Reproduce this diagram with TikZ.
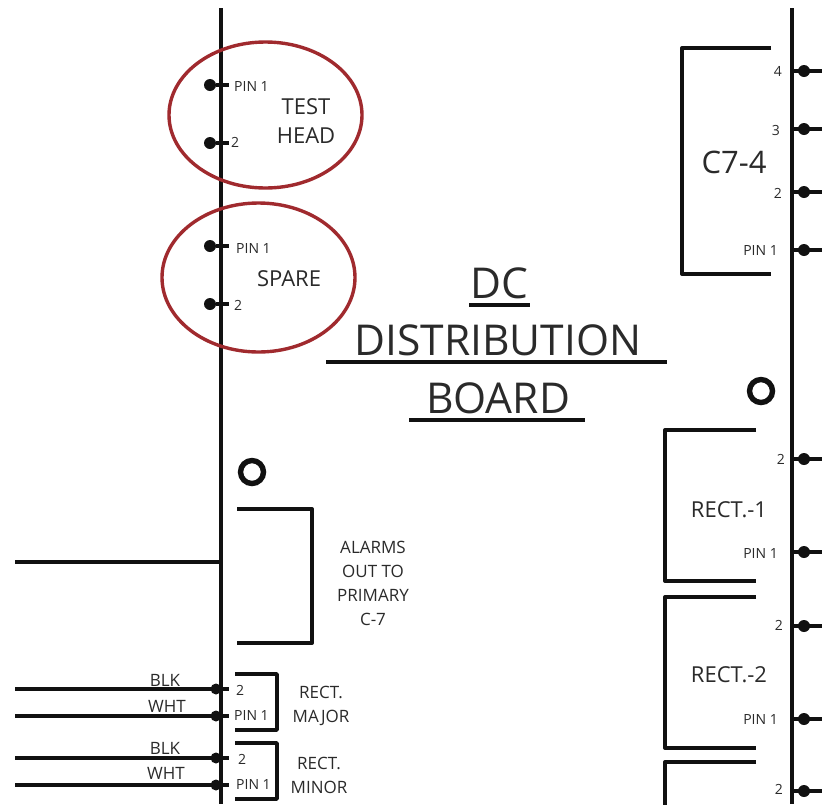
\documentclass[tikz,border=0pt]{standalone}
\usepackage{fontspec}
\usetikzlibrary{shapes.geometric}
\setmainfont{Open Sans}
\definecolor{ink}{HTML}{111111}
\definecolor{txt}{HTML}{2A2A2A}
\definecolor{ringred}{HTML}{A02A2E}
\tikzset{
  wire/.style={draw=ink,line width=3.4pt},
  thick wire/.style={draw=ink,line width=4pt},
  bracket/.style={draw=ink,line width=4pt,line join=round},
  small bracket/.style={draw=ink,line width=3.6pt,line join=round},
  dotpin/.style={circle,fill=ink,inner sep=0pt,minimum size=12pt},
  ring/.style={draw=ringred,line width=3.4pt,ellipse},
  ring2/.style={draw=ink,line width=5.4pt,circle,inner sep=0pt},
  pinlabel/.style={text=txt,font=\fontsize{14}{15}\selectfont,inner sep=0pt},
  midlabel/.style={text=txt,font=\fontsize{22}{29}\selectfont,inner sep=0pt,align=center},
  smalllabel/.style={text=txt,font=\fontsize{17}{24}\selectfont,inner sep=0pt,align=center},
  biglabel/.style={text=txt,font=\fontsize{42.5}{46}\selectfont,inner sep=0pt},
  ul/.style={draw=ink,line width=3.8pt}
}
\begin{document}
\begin{tikzpicture}[x=1pt,y=-1pt]
\useasboundingbox (0,0) rectangle (822,804);
\clip (0,0) rectangle (822,804);
% buses
\coordinate (lt) at (221,8); \coordinate (lb) at (221,804);
\coordinate (rt) at (792,8); \coordinate (rb) at (792,804);
\draw[thick wire] (lt) -- (lb);
\draw[thick wire] (rt) -- (rb);
% left pins
\foreach \n/\y in {a/85,b/143,c/246,d/304}{
  \node[dotpin] (\n) at (210,\y) {};
  \coordinate (\n b) at (229,\y);
  \draw[wire] (\n) -- (\n b);
}
\node[pinlabel,anchor=west] at (234,86) {PIN 1};
\node[pinlabel,anchor=west] at (231,142) {2};
\node[pinlabel,anchor=west] at (236,248) {PIN 1};
\node[pinlabel,anchor=west] at (234,305) {2};
\node[midlabel] at (306,121) {TEST\\HEAD};
\node[midlabel] at (289,279) {SPARE};
\node[ring,minimum width=193pt,minimum height=146pt] (r1) at (265.5,115) {};
\node[ring,minimum width=193pt,minimum height=149pt] (r2) at (258.5,277.5) {};
% title
\node[biglabel] (t1) at (499,283) {DC};
\node[biglabel] (t2) at (498,340) {DISTRIBUTION};
\node[biglabel] (t3) at (498,398) {BOARD};
\coordinate (u1a) at (469,305); \coordinate (u1b) at (530,305);
\coordinate (u2a) at (326,362); \coordinate (u2b) at (667,362);
\coordinate (u3a) at (409,420); \coordinate (u3b) at (585,420);
\draw[ul] (u1a) -- (u1b);
\draw[ul] (u2a) -- (u2b);
\draw[ul] (u3a) -- (u3b);
% rings
\node[ring2,minimum size=23pt] (o1) at (252,472) {};
\node[ring2,minimum size=23pt] (o2) at (761,391) {};
% alarms
\coordinate (aw) at (15,562); \coordinate (ae) at (221,562);
\draw[wire] (aw) -- (ae);
\draw[bracket] (237,509) -- (312,509) -- (312,643) -- (237,643);
\node[smalllabel] at (373,583) {ALARMS\\OUT TO\\PRIMARY\\C-7};
% rect major/minor
\foreach \n/\y/\tl/\tx/\ty in {e/689/BLK/165/680,f/716/WHT/167/706,g/758/BLK/165/748,h/785/WHT/166/773}{
  \coordinate (\n w) at (15,\y);
  \node[dotpin,minimum size=11pt] (\n) at (216,\y) {};
  \coordinate (\n e) at (229,\y);
  \draw[thick wire] (\n w) -- (\n e);
  \node[smalllabel] at (\tx,\ty) {\tl};
}
\node[pinlabel,anchor=west] at (236,690) {2};
\node[pinlabel,anchor=west] at (234,715) {PIN 1};
\node[pinlabel,anchor=west] at (238,759) {2};
\node[pinlabel,anchor=west] at (236,784) {PIN 1};
\draw[small bracket] (235,674) -- (277,674) -- (277,730) -- (235,730);
\draw[small bracket] (235,743) -- (277,743) -- (277,799) -- (235,799);
\node[smalllabel] at (321,706) {RECT.\\MAJOR};
\node[smalllabel] at (319,775) {RECT.\\MINOR};
% right pins
\foreach \n/\y in {p/71,q/129,s/192,u/250,v/459,w/552,x/626,y/719,z/791}{
  \node[dotpin] (\n) at (804,\y) {};
  \coordinate (\n a) at (792,\y);
  \coordinate (\n c) at (822,\y);
  \draw[wire] (\n a) -- (\n c);
}
\node[pinlabel,anchor=east] at (782,71) {4};
\node[pinlabel,anchor=east] at (780,130) {3};
\node[pinlabel,anchor=east] at (782,193) {2};
\node[pinlabel,anchor=east] at (778,250) {PIN 1};
\node[pinlabel,anchor=east] at (785,459) {2};
\node[pinlabel,anchor=east] at (778,553) {PIN 1};
\node[pinlabel,anchor=east] at (783,625) {2};
\node[pinlabel,anchor=east] at (778,719) {PIN 1};
\node[pinlabel,anchor=east] at (783,789) {2};
% right brackets
\draw[bracket] (771,48) -- (682,48) -- (682,274) -- (771,274);
\node[text=txt,font=\fontsize{31}{34}\selectfont,inner sep=0pt] at (734,162) {C7-4};
\draw[bracket] (756,430) -- (665,430) -- (665,581) -- (756,581);
\node[midlabel] at (729,510) {RECT.-1};
\draw[bracket] (756,597) -- (665,597) -- (665,748) -- (756,748);
\node[midlabel] at (729,675) {RECT.-2};
\draw[bracket] (756,762) -- (665,762) -- (665,810);
\end{tikzpicture}
\end{document}
